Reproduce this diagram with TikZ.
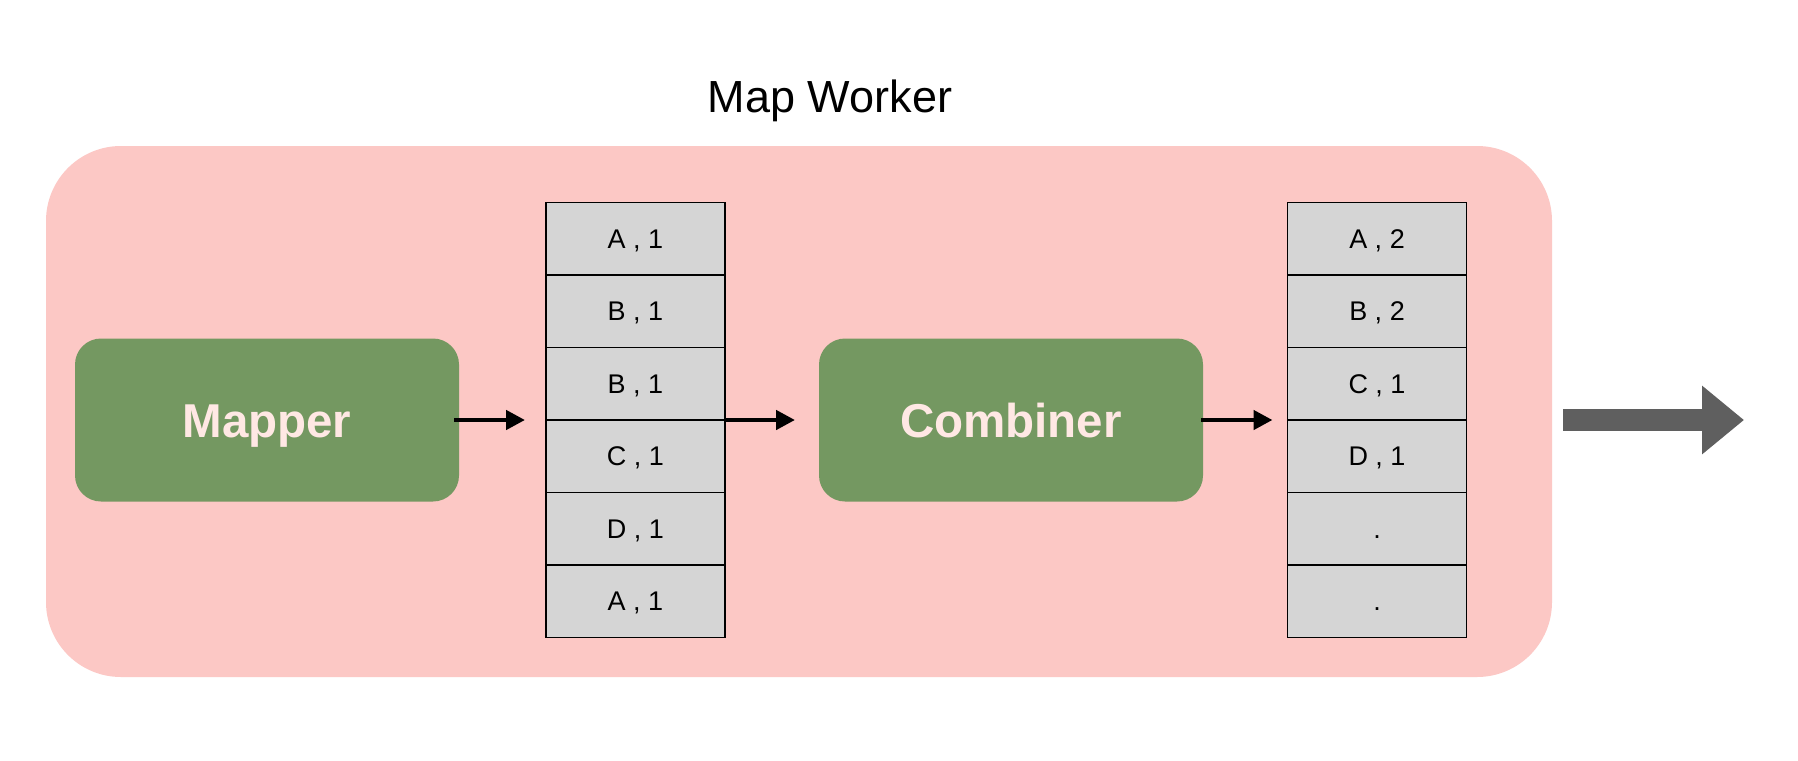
\documentclass[tikz,border=0pt]{standalone}
\usepackage{fontspec}
\setmainfont{Liberation Sans}
\usetikzlibrary{arrows.meta}
\definecolor{pinkbg}{HTML}{FCC8C5}
\definecolor{greenbox}{HTML}{749861}
\definecolor{greentext}{HTML}{FFE8E4}
\definecolor{cellgray}{HTML}{D5D5D5}
\definecolor{bigarrow}{HTML}{5F5F5F}
\tikzset{
  worker/.style={fill=pinkbg, draw=none, rounded corners=75pt},
  procbox/.style={fill=greenbox, draw=none, rounded corners=26pt, minimum width=384pt, minimum height=163pt, inner sep=0pt, outer sep=0pt, text=greentext, font=\fontsize{47.5}{50}\selectfont\bfseries, text height=34pt, text depth=0pt},
  cell/.style={fill=cellgray, draw=black, line width=1.5pt, minimum width=179pt, minimum height=72.5pt, inner sep=0pt, outer sep=0pt, font=\fontsize{27}{29}\selectfont, text height=19.3pt, text depth=0pt},
  flow/.style={draw=black, line width=4.5pt, -{Triangle[length=19pt,width=19pt]}},
  title/.style={font=\fontsize{45}{48}\selectfont, inner sep=0pt, text height=32.2pt, text depth=0pt}
}
\begin{document}
\begin{tikzpicture}[x=1pt,y=-1pt]
\useasboundingbox (0,0) rectangle (1798,760);
\fill[white] (0,0) rectangle (1798,760);
\node[title] (title) at (830,96) {Map Worker};
\path[worker] (46,146) rectangle (1552,677);
\node[procbox] (mapper) at (267,420) {Mapper};
\node[procbox] (combiner) at (1011,420) {Combiner};
% table 1
\node[cell] (t1r1) at (635.5,238.75) {A , 1};
\node[cell, anchor=north] (t1r2) at (t1r1.south) {B , 1};
\node[cell, anchor=north] (t1r3) at (t1r2.south) {B , 1};
\node[cell, anchor=north] (t1r4) at (t1r3.south) {C , 1};
\node[cell, anchor=north] (t1r5) at (t1r4.south) {D , 1};
\node[cell, anchor=north] (t1r6) at (t1r5.south) {A , 1};
% table 2
\node[cell] (t2r1) at (1377,238.75) {A , 2};
\node[cell, anchor=north] (t2r2) at (t2r1.south) {B , 2};
\node[cell, anchor=north] (t2r3) at (t2r2.south) {C , 1};
\node[cell, anchor=north] (t2r4) at (t2r3.south) {D , 1};
\node[cell, anchor=north] (t2r5) at (t2r4.south) {.};
\node[cell, anchor=north] (t2r6) at (t2r5.south) {.};
% connectors
\draw[flow, shorten <=-5pt, shorten >=21pt] (mapper.east) -- (mapper.east -| t1r3.south west);
\draw[flow, shorten >=24pt] (t1r3.south east) -- (t1r3.south east -| combiner.west);
\draw[flow, shorten <=-2pt, shorten >=15pt] (combiner.east) -- (combiner.east -| t2r3.south west);
% output arrow
\coordinate (outstart) at (1563,420);
\coordinate (outend) at (1744,420);
\draw[bigarrow, line width=22pt, -{Triangle[length=42pt,width=66pt]}] (outstart) -- (outend);
\end{tikzpicture}
\end{document}
